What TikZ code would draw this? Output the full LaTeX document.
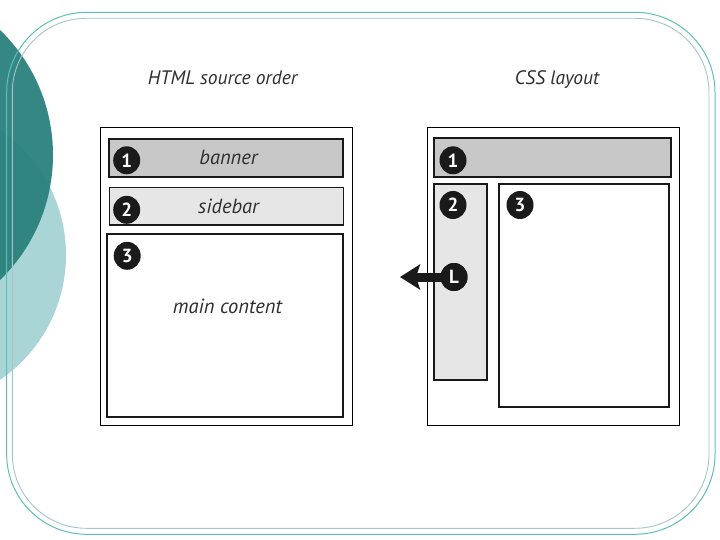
\documentclass[tikz,border=0pt]{standalone}
\usepackage{fontspec}
\setmainfont{PT Sans}
\usetikzlibrary{arrows.meta,shapes.geometric}
\definecolor{tealdark}{HTML}{2A817C}
\definecolor{teallight}{HTML}{A9D5D6}
\definecolor{frameout}{HTML}{5DBFBC}
\definecolor{framein}{HTML}{A3C6C6}
\definecolor{bannergray}{HTML}{C8C8C8}
\definecolor{sidegray}{HTML}{E6E6E6}
\definecolor{txt}{HTML}{2E2E2E}
\definecolor{badgeblack}{HTML}{1A1A1A}
\begin{document}
\begin{tikzpicture}[x=1pt,y=-1pt,
  panel/.style={draw=black, line width=1.1pt, fill=white, inner sep=0pt, outer sep=0pt},
  boxthick/.style={draw=black!90, line width=2pt, inner sep=0pt, outer sep=0pt},
  boxthin/.style={draw=black!90, line width=1.5pt, inner sep=0pt, outer sep=0pt},
  badge/.style={ellipse, fill=badgeblack, text=white, inner sep=0pt, minimum width=27pt, minimum height=28pt,
    font=\bfseries\fontsize{19}{19}\selectfont},
  title/.style={anchor=base, text=txt, font=\itshape\fontsize{19.5}{19.5}\selectfont},
  label/.style={anchor=base, text=txt, font=\itshape\fontsize{20.5}{20.5}\selectfont}
]
\useasboundingbox (0,0) rectangle (720,540);
\begin{scope}
  \clip (0,0) rectangle (720,540);
  \fill[teallight] (-85,255) circle (151);
  \fill[tealdark, opacity=0.95] (-121,155) circle (174);
\end{scope}
% frame
\draw[frameout, line width=1pt, rounded corners=80pt] (6.7,12.3) rectangle (715,534.3);
\draw[framein, line width=0.9pt, rounded corners=74pt] (12.3,18.3) rectangle (709,528.3);
% titles
\node[title] (t1) at (222.5,85) {HTML source order};
\node[title] (t2) at (557,85) {CSS layout};
% left panel
\node[panel, minimum width=252.1pt, minimum height=297.9pt] (lpanel) at (226.15,276.35) {};
\node[boxthick, fill=bannergray, minimum width=234.1pt, minimum height=38.5pt] (lban) at (226.35,158.05) {};
\node[boxthin, fill=sidegray, minimum width=234.1pt, minimum height=37.9pt] (lside) at (226.35,206.25) {};
\node[boxthick, fill=white, minimum width=235.1pt, minimum height=183.2pt] (lmain) at (224.95,325.8) {};
\node[label] (lbantext) at (228.5,164.8) {banner};
\node[label] (lsidetext) at (228.5,213.8) {sidebar};
\node[label] (lmaintext) at (227.5,313.5) {main content};
\node[badge] (lb1) at (126.7,160.3) {1};
\node[badge] (lb2) at (126.7,209.8) {2};
\node[badge] (lb3) at (127.2,255.8) {3};
% right panel
\node[panel, minimum width=252.2pt, minimum height=297.9pt] (rpanel) at (553.3,276.35) {};
\node[boxthick, fill=bannergray, minimum width=236.2pt, minimum height=38.8pt] (rban) at (552.4,157.9) {};
\node[boxthick, fill=sidegray, minimum width=52.9pt, minimum height=195.7pt] (rside) at (460.75,282.35) {};
\node[boxthick, fill=white, minimum width=169.8pt, minimum height=222.9pt] (rmain) at (584.3,295.95) {};
\node[badge] (rb1) at (453,160.3) {1};
\node[badge] (rb2) at (453,205) {2};
\node[badge] (rb3) at (520,205) {3};
% L arrow
\coordinate (tip) at (400,277);
\node[badge] (lbL) at (454,277) {};
\draw[badgeblack, line width=9pt, -{Stealth[length=20pt, width=25pt, inset=4pt]}] (lbL.center) -- (tip);
\node[badge] (lbLfront) at (lbL) {L};
\end{tikzpicture}
\end{document}
